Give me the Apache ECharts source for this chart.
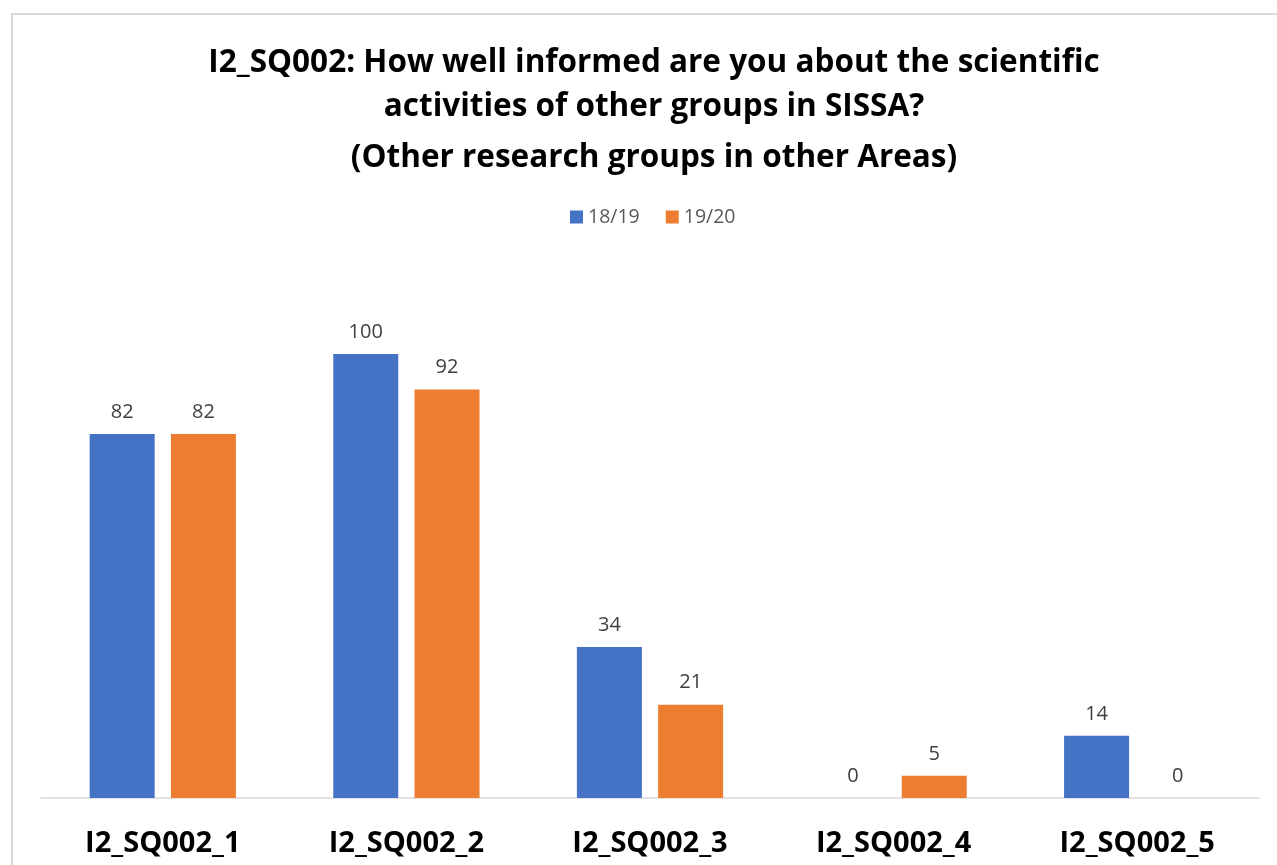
<!DOCTYPE html>
<html>
<head>
<meta charset="utf-8">
<script src="https://cdn.jsdelivr.net/npm/echarts@6/dist/echarts.min.js"></script>
<style>
  html, body { margin: 0; padding: 0; background: #fff; }
  #chart { width: 1277px; height: 865px; }
  /* the light frame round the chart, only its top and left edges are visible */
  #frame {
    position: absolute; left: 11px; top: 13px; width: 1300px; height: 900px;
    border-left: 2px solid #d9d9d9; border-top: 2px solid #d9d9d9;
    pointer-events: none;
  }
</style>
</head>
<body>
<div id="chart"></div>
<div id="frame"></div>
<script>
var categories = ['I2_SQ002_1', 'I2_SQ002_2', 'I2_SQ002_3', 'I2_SQ002_4', 'I2_SQ002_5']
var seriesNames = ['18/19', '19/20']
var values1819 = [82, 100, 34, 0, 14]
var values1920 = [82, 92, 21, 5, 0]

var font = 'Open Sans'
var chart = echarts.init(document.getElementById('chart'))

var titleStyle = { fontFamily: font, fontWeight: 'bold', fontSize: 31.5, color: '#000', lineHeight: 44, align: 'center' }
var labelStyle = { show: true, position: 'top', distance: 12, fontFamily: font, fontSize: 20, color: '#404040' }

var option = {
  animation: false,
  title: [
    {
      text: 'I2_SQ002: How well informed are you about the scientific\nactivities of other groups in SISSA?',
      left: 649,
      textAlign: 'center',
      top: 36,
      textStyle: titleStyle
    },
    {
      text: '(Other research groups in other Areas)',
      left: 649,
      textAlign: 'center',
      top: 131,
      textStyle: titleStyle
    }
  ],
  legend: {
    data: seriesNames,
    top: 202,
    left: 565,
    icon: 'rect',
    itemWidth: 13,
    itemHeight: 13,
    itemGap: 26,
    textStyle: { fontFamily: font, fontSize: 19.5, color: '#595959' }
  },
  grid: { left: 41, right: 18, top: 354, bottom: 67, containLabel: false },
  xAxis: {
    type: 'category',
    data: categories,
    axisLine: { lineStyle: { color: '#d9d9d9', width: 1.5 } },
    axisTick: { show: false },
    axisLabel: { fontFamily: font, fontWeight: 'bold', fontSize: 29, color: '#000', margin: 31 }
  },
  yAxis: {
    type: 'value',
    min: 0,
    max: 100,
    show: false,
    splitLine: { show: false }
  },
  series: [
    {
      name: seriesNames[0],
      type: 'bar',
      data: values1819,
      barWidth: 65,
      barGap: '25%',
      itemStyle: { color: '#4472C4' },
      label: labelStyle
    },
    {
      name: seriesNames[1],
      type: 'bar',
      data: values1920,
      barWidth: 65,
      barGap: '25%',
      itemStyle: { color: '#ED7D31' },
      label: labelStyle
    }
  ]
}
chart.setOption(option)
</script>
</body>
</html>
